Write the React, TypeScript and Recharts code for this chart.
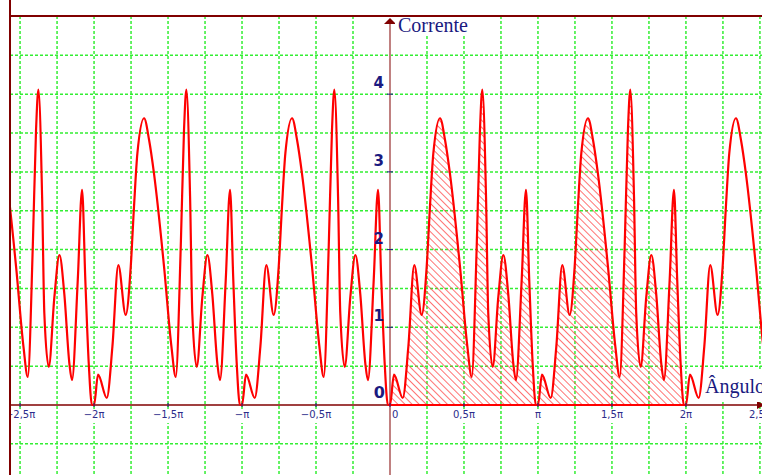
import { ComposedChart, Line, Area, XAxis, YAxis, CartesianGrid, ReferenceLine, ReferenceDot } from 'recharts'

// one period of the current; angle given as a fraction of π
const phase = [
  0, 0.027, 0.086, 0.124, 0.164, 0.214, 0.248, 0.27, 0.293, 0.338, 0.372, 0.405,
  0.473, 0.523, 0.552, 0.586, 0.608, 0.624, 0.649, 0.664, 0.694, 0.732, 0.766,
  0.799, 0.833, 0.851, 0.89, 0.919, 0.941, 0.964, 0.986,
]
const current = [
  0, 0.39, 0.09, 0.75, 1.8, 1.16, 1.78, 2.55, 3.24, 3.69, 3.41, 2.98,
  1.78, 0.75, 0.36, 2.04, 3.54, 4.06, 2.68, 1.18, 0.49, 1.39, 1.93,
  1.43, 0.54, 0.32, 1.61, 2.77, 1.61, 0.54, 0,
]
const periodStarts = [-3, -2, -1, 0, 1, 2]

// hatched part of the curve (0 .. 2π)
const shadeFrom = 0
const shadeTo = 2

const xTicks = [-2.5, -2, -1.5, -1, -0.5, 0, 0.5, 1, 1.5, 2, 2.5]
const xTickLabels = ['−2,5π', '−2π', '−1,5π', '−π', '−0,5π', '0', '0,5π', 'π', '1,5π', '2π', '2,5π']
const yTicks = [0, 1, 2, 3, 4]
const yTickLabels = ['0', '1', '2', '3', '4']

const gridX = [
  -2.5, -2.25, -2, -1.75, -1.5, -1.25, -1, -0.75, -0.5, -0.25,
  0.25, 0.5, 0.75, 1, 1.25, 1.5, 1.75, 2, 2.25, 2.5,
]
const gridY = [-0.5, 0.5, 1, 1.5, 2, 2.5, 3, 3.5, 4, 4.5]

const xMin = -2.568
const xMax = 2.514
const yMin = -0.901
const yMax = 5.006

const rows = periodStarts.flatMap((k) =>
  phase.map((p, j) => {
    const t = k + p
    return { t, i: current[j], shade: t >= shadeFrom && t <= shadeTo ? current[j] : 0 }
  })
)

const NAVY = '#1a1a80'
const AXIS_RED = '#800000'

const xTickShape = (label: string) => (props: any) => {
  const { cx, cy } = props
  const isZero = label === '0'
  const w = label.length * 6.5 + 4
  return (
    <g>
      <line x1={cx} x2={cx} y1={cy - 2} y2={cy + 2} stroke={NAVY} strokeWidth={1} />
      {!isZero && <rect x={cx - w / 2} y={cy + 4} width={w} height={14} fill="#fff" />}
      <text
        x={isZero ? cx + 2 : cx}
        y={cy + 13}
        textAnchor={isZero ? 'start' : 'middle'}
        fontFamily="DejaVu Sans, Verdana, sans-serif"
        fontSize={10}
        fill="#2c2c8c"
      >
        {label}
      </text>
    </g>
  )
}

const yTickShape = (label: string) => (props: any) => {
  const { cx, cy } = props
  const isZero = label === '0'
  return (
    <g>
      {!isZero && <line x1={cx - 3} x2={cx + 3} y1={cy} y2={cy} stroke={NAVY} strokeWidth={1} />}
      <text
        x={cx - (isZero ? 5 : 6)}
        y={cy - (isZero ? 7 : 6)}
        textAnchor="end"
        fontFamily="DejaVu Sans, Verdana, sans-serif"
        fontWeight="bold"
        fontSize={isZero ? 16 : 15}
        fill={NAVY}
      >
        {label}
      </text>
    </g>
  )
}

const yArrow = (props: any) => {
  const { cx, cy } = props
  return (
    <g>
      <path d={`M${cx},${cy + 2} L${cx - 6},${cy + 8} L${cx + 6},${cy + 8} Z`} fill={AXIS_RED} />
      <rect x={cx + 5} y={cy + 1} width={76} height={18} fill="#fff" />
      <text x={cx + 8} y={cy + 16} fontFamily="Liberation Serif, Times New Roman, serif" fontSize={20} fill={NAVY}>
        Corrente
      </text>
    </g>
  )
}

const xArrow = (props: any) => {
  const { cx, cy } = props
  return (
    <g>
      <path d={`M${cx + 3},${cy} L${cx - 5},${cy - 4} L${cx - 5},${cy + 4} Z`} fill={AXIS_RED} />
      <rect x={cx - 58} y={cy - 36} width={60} height={33} fill="#fff" />
      <text x={cx - 57} y={cy - 12} fontFamily="Liberation Serif, Times New Roman, serif" fontSize={20} fill={NAVY}>
        Ângulo
      </text>
    </g>
  )
}

export default function App() {
  return (
    <div style={{ position: 'absolute', left: 0, top: 0, width: 762, height: 475, background: '#fff', overflow: 'hidden' }}>
      <ComposedChart width={762} height={475} data={rows} margin={{ top: 16, right: 0, bottom: 0, left: 10 }}>
        <defs>
          <pattern id="hatch" patternUnits="userSpaceOnUse" width={5} height={5} patternTransform="rotate(-45)">
            <line x1={0} y1={0} x2={0} y2={5} stroke="#ff4444" strokeWidth={1.5} />
          </pattern>
        </defs>
        <XAxis dataKey="t" type="number" domain={[xMin, xMax]} allowDataOverflow hide />
        <YAxis type="number" domain={[yMin, yMax]} allowDataOverflow hide />
        <CartesianGrid
          verticalValues={gridX}
          horizontalValues={gridY}
          stroke="#33ee33"
          strokeWidth={1.5}
          strokeDasharray="3 2"
        />
        <Area
          dataKey="shade"
          type="monotone"
          stroke="none"
          fill="url(#hatch)"
          fillOpacity={1}
          baseValue={0}
          isAnimationActive={false}
        />
        <ReferenceLine segment={[{ x: 0, y: yMin }, { x: 0, y: 4.93 }]} stroke="#c08080" strokeWidth={2} />
        <ReferenceLine y={0} stroke={AXIS_RED} strokeWidth={1.5} />
        <ReferenceLine segment={[{ x: shadeFrom, y: 0 }, { x: shadeTo, y: 0 }]} stroke="#ff0000" strokeWidth={2} />
        <Line dataKey="i" type="monotone" stroke="#ff0000" strokeWidth={2.2} dot={false} isAnimationActive={false} />
        {xTicks.map((v, k) => (
          <ReferenceDot key={'x' + v} x={v} y={0} r={0} ifOverflow="visible" shape={xTickShape(xTickLabels[k])} />
        ))}
        {yTicks.map((v, k) => (
          <ReferenceDot key={'y' + v} x={0} y={v} r={0} ifOverflow="visible" shape={yTickShape(yTickLabels[k])} />
        ))}
        <ReferenceDot x={0} y={yMax} r={0} ifOverflow="visible" shape={yArrow} />
        <ReferenceDot x={xMax} y={0} r={0} ifOverflow="visible" shape={xArrow} />
      </ComposedChart>
      <div style={{ position: 'absolute', left: 0, top: 0, width: 9, height: 475, background: '#fff', borderRight: `2px solid ${AXIS_RED}` }} />
      <div style={{ position: 'absolute', left: 9, top: 15, width: 753, height: 2, background: AXIS_RED }} />
    </div>
  )
}
